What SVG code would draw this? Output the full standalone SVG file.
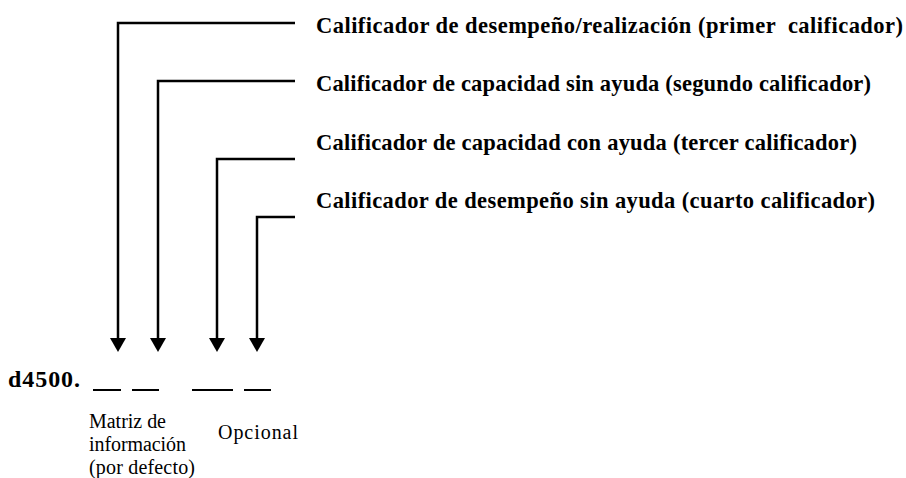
<svg xmlns="http://www.w3.org/2000/svg" width="906" height="478" viewBox="0 0 906 478">
<defs>
<style>
.lbl{font-family:"Liberation Serif",serif;font-weight:bold;font-size:22.5px;fill:#000}
.sm{font-family:"Liberation Serif",serif;font-size:20px;fill:#000}
.ln{fill:none;stroke:#000;stroke-width:2.5}
.ds{stroke:#000;stroke-width:2}
.ah{fill:#000}
</style>
</defs>
<rect width="906" height="478" fill="#fff"/>
<g id="connectors">
<path class="ln" d="M295,23 H118 V338"/>
<path class="ln" d="M295,81 H158 V338"/>
<path class="ln" d="M295,159 H217 V338"/>
<path class="ln" d="M295,217 H257 V338"/>
<path class="ah" d="M110,338 L126,338 L118,352 Z"/>
<path class="ah" d="M150,338 L166,338 L158,352 Z"/>
<path class="ah" d="M209,338 L225,338 L217,352 Z"/>
<path class="ah" d="M249,338 L265,338 L257,352 Z"/>
</g>
<g id="q1"><text class="lbl" x="316" y="33" textLength="587" xml:space="preserve">Calificador de desempeño/realización (primer  calificador)</text></g>
<g id="q2"><text class="lbl" x="316" y="91" textLength="555">Calificador de capacidad sin ayuda (segundo calificador)</text></g>
<g id="q3"><text class="lbl" x="316" y="150" textLength="541">Calificador de capacidad con ayuda (tercer calificador)</text></g>
<g id="q4"><text class="lbl" x="316" y="208" textLength="559">Calificador de desempeño sin ayuda (cuarto calificador)</text></g>
<g id="code">
<text class="lbl" x="8" y="387" style="font-size:24px" textLength="72">d4500.</text>
<line class="ds" x1="93" y1="390" x2="121" y2="390"/>
<line class="ds" x1="132" y1="390" x2="159" y2="390"/>
<line class="ds" x1="192" y1="390" x2="233" y2="390"/>
<line class="ds" x1="244" y1="390" x2="271" y2="390"/>
</g>
<g id="matriz">
<text class="sm" x="89" y="428" textLength="77">Matriz de</text>
<text class="sm" x="89" y="451" textLength="97">información</text>
<text class="sm" x="89" y="474" textLength="106">(por defecto)</text>
</g>
<g id="opcional"><text class="sm" x="218" y="439" textLength="80">Opcional</text></g>
</svg>
